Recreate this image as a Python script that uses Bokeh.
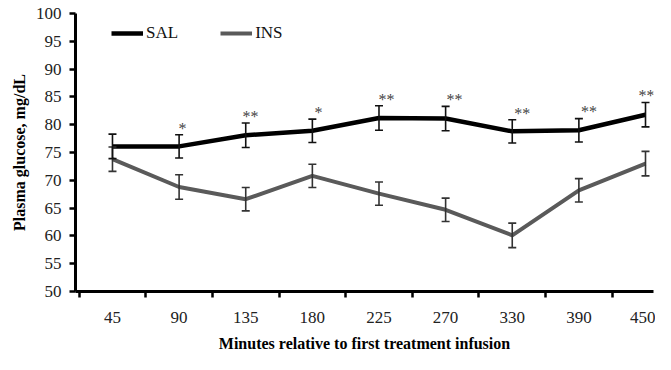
from bokeh.plotting import figure
from bokeh.models import (ColumnDataSource, Whisker, TeeHead, FixedTicker, Legend, LegendItem)
from bokeh.core.properties import value
from bokeh.embed import file_html
from bokeh.resources import INLINE

minutes = ["45", "90", "135", "180", "225", "270", "330", "390", "450"]
sal = [76.1, 76.1, 78.1, 78.9, 81.2, 81.1, 78.8, 79.0, 81.8]
sal_se = [2.2, 2.1, 2.2, 2.1, 2.2, 2.2, 2.1, 2.1, 2.2]
ins = [73.8, 68.8, 66.6, 70.8, 67.6, 64.7, 60.1, 68.2, 73.0]
ins_se = [2.2, 2.2, 2.1, 2.1, 2.1, 2.1, 2.2, 2.1, 2.2]
stars = ["", "*", "**", "*", "**", "**", "**", "**", "**"]

FONT = "'Liberation Serif', 'Times New Roman', serif"
x = list(range(len(minutes)))

p = figure(width=655, height=354, output_backend="svg", toolbar_location=None,
           x_range=(-0.555, 8.12), y_range=(50, 100),
           min_border_left=75, min_border_right=2, min_border_top=13, min_border_bottom=57)
p.outline_line_color = None
p.xgrid.grid_line_color = None
p.ygrid.grid_line_color = None
p.background_fill_color = "white"
p.border_fill_color = "white"

src_sal = ColumnDataSource(dict(x=x, y=sal, up=[a + b for a, b in zip(sal, sal_se)],
                                lo=[a - b for a, b in zip(sal, sal_se)]))
src_ins = ColumnDataSource(dict(x=x, y=ins, up=[a + b for a, b in zip(ins, ins_se)],
                                lo=[a - b for a, b in zip(ins, ins_se)]))

r_ins = p.line("x", "y", source=src_ins, line_color="#5a5a5a", line_width=4)
r_sal = p.line("x", "y", source=src_sal, line_color="black", line_width=4.5)

for src, col in ((src_ins, "#333333"), (src_sal, "#111111")):
    w = Whisker(base="x", upper="up", lower="lo", source=src, dimension="height",
                line_color=col, line_width=1.6,
                upper_head=TeeHead(size=8, line_color=col, line_width=1.6),
                lower_head=TeeHead(size=8, line_color=col, line_width=1.6))
    w.level = "overlay"
    p.add_layout(w)

star_dx = [min(2 + 1.4 * i, 10.0) for i in x]
star_dx[-1] = 1.0
star_src = ColumnDataSource(dict(x=x, y=[a + b + 1.2 for a, b in zip(sal, sal_se)],
                                 t=stars, dx=star_dx))
p.text("x", "y", text="t", source=star_src, x_offset="dx", text_align="center",
       text_baseline="alphabetic", text_font=value(FONT), text_font_size="16px",
       text_color="#444444")

# axes
xa = p.xaxis[0]
xa.ticker = FixedTicker(ticks=x, minor_ticks=[i - 0.5 for i in x])
xa.major_label_overrides = {i: m for i, m in enumerate(minutes)}
xa.major_tick_line_color = None
xa.major_tick_out = 0
xa.major_tick_in = 0
xa.minor_tick_out = 6
xa.minor_tick_in = 0
xa.minor_tick_line_color = "black"
xa.minor_tick_line_width = 2.5
xa.axis_line_width = 3
xa.axis_line_color = "black"
xa.major_label_text_font = FONT
xa.major_label_text_font_size = "17px"
xa.major_label_text_color = "#222222"
xa.major_label_standoff = 14
xa.axis_label = "Minutes relative to first treatment infusion"
xa.axis_label_text_font = FONT
xa.axis_label_text_font_style = "bold"
xa.axis_label_text_font_size = "16px"
xa.axis_label_text_color = "black"
xa.axis_label_standoff = 9

ya = p.yaxis[0]
ya.ticker = FixedTicker(ticks=list(range(50, 101, 5)))
ya.minor_tick_line_color = None
ya.major_tick_out = 6
ya.major_tick_in = 0
ya.major_tick_line_width = 2.5
ya.major_tick_line_color = "black"
ya.axis_line_width = 3
ya.axis_line_color = "black"
ya.major_label_text_font = FONT
ya.major_label_text_font_size = "17px"
ya.major_label_text_color = "#222222"
ya.major_label_standoff = 8
ya.axis_label = "Plasma glucose, mg/dL"
ya.axis_label_text_font = FONT
ya.axis_label_text_font_style = "bold"
ya.axis_label_text_font_size = "16px"
ya.axis_label_text_color = "black"
ya.axis_label_standoff = 5

legend = Legend(items=[LegendItem(label="SAL", renderers=[r_sal]),
                       LegendItem(label="INS", renderers=[r_ins])],
                location=(36, 248), orientation="horizontal",
                glyph_width=32, glyph_height=20, label_standoff=3, spacing=42,
                padding=7, margin=0,
                label_text_font=FONT, label_text_font_size="17px",
                label_text_color="#111111",
                border_line_color=None, background_fill_alpha=0)
p.add_layout(legend)

open("out.html", "w").write(file_html(p, INLINE))
